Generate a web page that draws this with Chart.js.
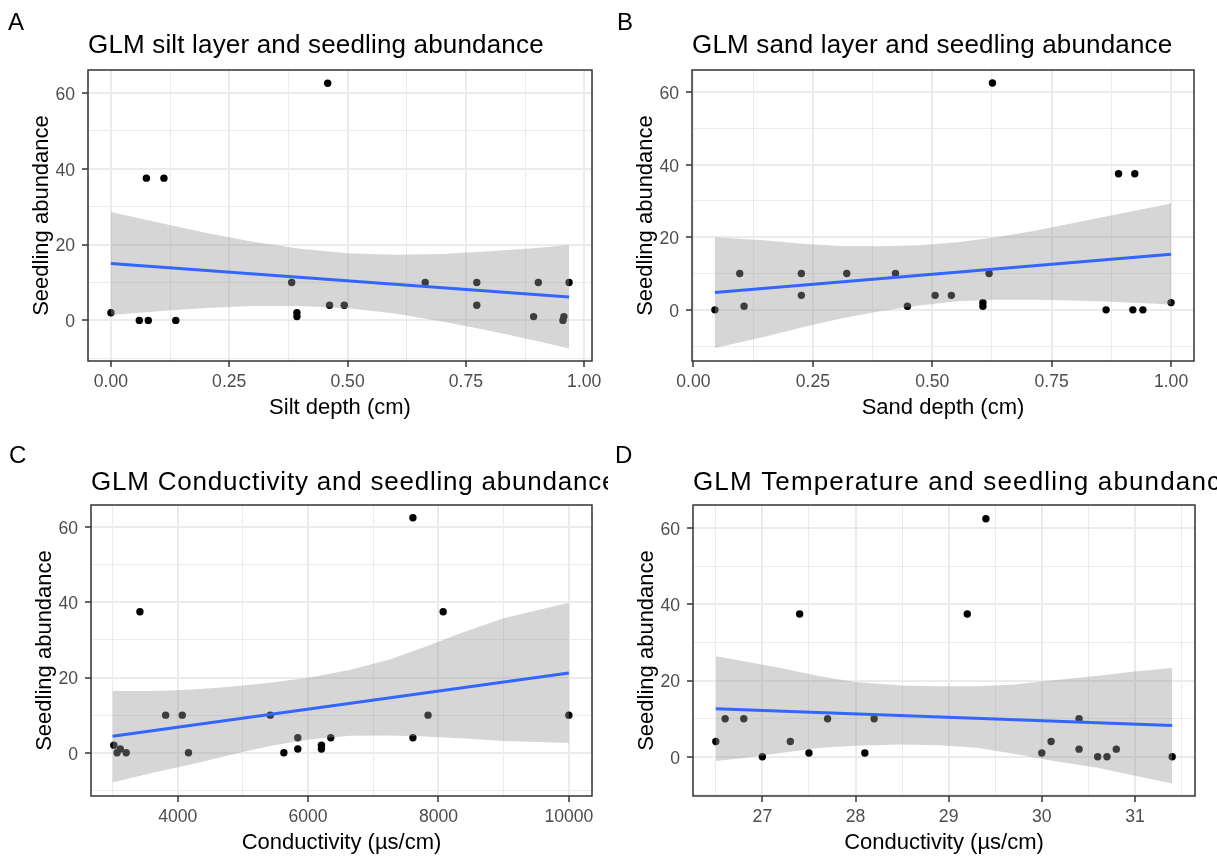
<!DOCTYPE html>
<html>
<head>
<meta charset="utf-8">
<script src="https://cdn.jsdelivr.net/npm/chart.js@4/dist/chart.umd.min.js"></script>
<style>
  html, body { margin: 0; padding: 0; background: #fff; }
  #wrap { position: relative; width: 1217px; height: 856px; overflow: hidden; }
  canvas { position: absolute; }
</style>
</head>
<body>
<div id="wrap">
  <canvas id="pA" width="608" height="428" style="left:0;top:0"></canvas>
  <canvas id="pB" width="609" height="428" style="left:608px;top:0"></canvas>
  <canvas id="pC" width="608" height="428" style="left:0;top:428px"></canvas>
  <canvas id="pD" width="609" height="428" style="left:608px;top:428px"></canvas>
</div>
<script>
// shared y axis
const abundanceTicks = [0, 20, 40, 60];
const abundanceMinor = [-10, 10, 30, 50];
const abundanceLabels = ['0', '20', '40', '60'];

// A: silt layer
const siltDepth = [0.00, 0.060, 0.079, 0.075, 0.112, 0.137, 0.382, 0.393, 0.393, 0.458,
                   0.462, 0.493, 0.664, 0.773, 0.773, 0.893, 0.903, 0.955, 0.957, 0.968];
const siltSeedlings = [2, 0, 0, 37.5, 37.5, 0, 10, 2, 1, 62.5,
                       4, 4, 10, 10, 4, 1, 10, 0, 1, 10];
const siltFitX = [0, 0.968];
const siltFitY = [15.0, 6.2];
const siltBandX = [0, 0.1, 0.2, 0.3, 0.4, 0.5, 0.6, 0.7, 0.8, 0.9, 0.968];
const siltBandHigh = [28.6, 25.8, 23.1, 20.7, 18.9, 17.7, 17.3, 17.5, 18.2, 19.1, 19.9];
const siltBandLow = [1.4, 2.4, 3.3, 3.8, 3.8, 3.2, 1.8, -0.3, -2.7, -5.4, -7.4];
const depthTicks = [0, 0.25, 0.5, 0.75, 1];
const depthMinor = [0.125, 0.375, 0.625, 0.875];
const depthLabels = ['0.00', '0.25', '0.50', '0.75', '1.00'];

// B: sand layer
const sandDepth = [0.045, 0.097, 0.106, 0.226, 0.226, 0.321, 0.423, 0.448, 0.506, 0.540,
                   0.606, 0.606, 0.619, 0.626, 0.864, 0.890, 0.920, 0.924, 0.941, 1.000];
const sandSeedlings = [0, 10, 1, 10, 4, 10, 10, 1, 4, 4,
                       2, 1, 10, 62.5, 0, 37.5, 0, 37.5, 0, 2];
const sandFitX = [0.045, 1.0];
const sandFitY = [4.8, 15.3];
const sandBandX = [0.045, 0.147, 0.228, 0.309, 0.39, 0.472, 0.553, 0.634, 0.715, 0.796, 0.877, 1.0];
const sandBandHigh = [20.0, 19.2, 18.2, 17.6, 17.5, 17.8, 18.6, 20.0, 21.8, 23.9, 26.1, 29.3];
const sandBandLow = [-10.5, -7.5, -4.8, -2.4, -0.4, 1.2, 2.4, 2.8, 2.8, 2.6, 2.2, 1.5];

// C: conductivity
const conductivity = [3020, 3070, 3120, 3210, 3420, 3815, 4070, 4165, 5420, 5628,
                      5842, 5842, 6205, 6205, 6348, 7608, 7608, 7840, 8072, 10000];
const condSeedlings = [2, 0, 1, 0, 37.5, 10, 10, 0, 10, 0,
                       4, 1, 2, 1, 4, 62.5, 4, 10, 37.5, 10];
const condFitX = [3000, 10000];
const condFitY = [4.4, 21.2];
const condBandX = [3000, 3650, 4250, 4850, 5450, 6050, 6650, 7250, 7800, 8400, 9000, 10000];
const condBandHigh = [16.4, 16.4, 16.8, 17.6, 18.7, 20.1, 22.1, 24.8, 28.2, 32.2, 35.8, 39.9];
const condBandLow = [-7.9, -5.2, -2.9, -0.4, 1.9, 3.6, 4.5, 4.6, 4.3, 3.8, 3.1, 2.6];
const condTicks = [4000, 6000, 8000, 10000];
const condMinor = [3000, 5000, 7000, 9000];
const condLabels = ['4000', '6000', '8000', '10000'];

// D: temperature
const temperature = [26.5, 26.6, 26.8, 27.0, 27.3, 27.4, 27.5, 27.7, 28.1, 28.2,
                     29.2, 29.4, 30.0, 30.1, 30.4, 30.4, 30.6, 30.7, 30.8, 31.4];
const tempSeedlings = [4, 10, 10, 0, 4, 37.5, 1, 10, 1, 10,
                       37.5, 62.5, 1, 4, 10, 2, 0, 0, 2, 0];
const tempFitX = [26.5, 31.4];
const tempFitY = [12.6, 8.2];
const tempBandX = [26.5, 26.8, 27.2, 27.6, 28.0, 28.5, 28.9, 29.3, 29.7, 30.1, 30.6, 31.0, 31.4];
const tempBandHigh = [26.4, 25.1, 23.3, 21.2, 19.6, 18.7, 18.5, 18.5, 19.0, 20.0, 21.3, 22.4, 23.3];
const tempBandLow = [-1.1, -0.3, 1.0, 2.3, 2.9, 3.2, 3.0, 2.4, 0.8, -1.0, -2.9, -5.0, -7.0];
const tempTicks = [27, 28, 29, 30, 31];
const tempMinor = [26.5, 27.5, 28.5, 29.5, 30.5, 31.5];
const tempLabels = ['27', '28', '29', '30', '31'];

const FONT = '"Liberation Sans", Arial, Helvetica, sans-serif';
const zip = (xs, ys) => xs.map((x, i) => ({x: x, y: ys[i]}));
const near = (list, v) => list.findIndex(m => Math.abs(m - v) < 1e-9);

// panel border, tag letter and (clipped) title, like ggplot's theme_bw
const panelDecor = {
  id: 'panelDecor',
  afterDraw(chart, args, o) {
    const {ctx, chartArea: a} = chart;
    ctx.save();
    ctx.strokeStyle = '#333333';
    ctx.lineWidth = 1.5;
    ctx.strokeRect(a.left, a.top, a.right - a.left, a.bottom - a.top);
    ctx.fillStyle = '#000';
    ctx.textBaseline = 'alphabetic';
    ctx.textAlign = 'left';
    ctx.font = '24px ' + FONT;
    ctx.fillText(o.tag, o.tagX, o.tagY);
    ctx.font = '26px ' + FONT;
    ctx.letterSpacing = o.spacing + 'px';
    ctx.fillText(o.title, a.left, o.titleY);
    ctx.letterSpacing = '0px';
    ctx.restore();
  }
};

function axis(min, max, major, minor, labels, title, size, titlePad, horizontal) {
  const all = major.concat(minor).sort((a, b) => a - b);
  return {
    type: 'linear',
    min: min,
    max: max,
    afterBuildTicks: s => { s.ticks = all.map(v => ({value: v})); },
    afterFit: s => { if (horizontal) s.height = size; else s.width = size; },
    border: {display: false},
    grid: {
      color: '#EBEBEB',
      lineWidth: c => (near(major, c.tick.value) >= 0 ? 2 : 1),
      tickColor: c => (near(major, c.tick.value) >= 0 ? '#333333' : 'rgba(0,0,0,0)'),
      tickLength: 6,
      tickWidth: 1.5
    },
    ticks: {
      autoSkip: false,
      maxRotation: 0,
      color: '#4D4D4D',
      padding: horizontal ? 5 : 7,
      labelOffset: horizontal ? 0 : 2,
      font: {family: FONT, size: 17.6, lineHeight: 1.2},
      callback: v => { const i = near(major, v); return i >= 0 ? labels[i] : ''; }
    },
    title: {
      display: true,
      text: title,
      color: '#000',
      font: {family: FONT, size: 22, lineHeight: 1},
      padding: horizontal ? {top: 0, bottom: titlePad} : {top: titlePad, bottom: 0}
    }
  };
}

function panel(id, p) {
  const cv = document.getElementById(id);
  const W = cv.width, H = cv.height;
  const xH = 60;
  new Chart(cv, {
    type: 'scatter',
    data: {
      datasets: [
        {data: zip(p.x, p.y), backgroundColor: '#000', borderWidth: 0, pointRadius: 3.7, order: 3},
        {data: zip(p.bandX, p.bandLow), showLine: true, pointRadius: 0, borderWidth: 0,
         borderColor: 'rgba(0,0,0,0)', fill: false, order: 2},
        {data: zip(p.bandX, p.bandHigh), showLine: true, pointRadius: 0, borderWidth: 0,
         borderColor: 'rgba(0,0,0,0)', backgroundColor: 'rgba(153,153,153,0.4)', fill: '-1', order: 2},
        {data: zip(p.fitX, p.fitY), showLine: true, pointRadius: 0, borderWidth: 3,
         borderColor: '#3366FF', fill: false, order: 1}
      ]
    },
    options: {
      responsive: false,
      animation: false,
      devicePixelRatio: 1,
      layout: {padding: {left: 0, top: p.area[1], right: W - p.area[2], bottom: H - p.area[3] - xH}},
      plugins: {
        legend: {display: false},
        tooltip: {enabled: false},
        panelDecor: {tag: p.tag, tagX: p.tagX, tagY: p.tagY, title: p.title, titleY: p.titleY,
                     spacing: p.spacing}
      },
      scales: {
        x: axis(p.xRange[0], p.xRange[1], p.xTicks, p.xMinor, p.xLabels, p.xTitle, xH, 1.6, true),
        y: axis(p.yRange[0], p.yRange[1], abundanceTicks, abundanceMinor, abundanceLabels,
                'Seedling abundance', p.area[0], p.area[0] - 57, false)
      }
    },
    plugins: [panelDecor]
  });
}

panel('pA', {
  tag: 'A', tagX: 8, tagY: 30, title: 'GLM silt layer and seedling abundance', titleY: 53, spacing: 0.17,
  area: [88, 70, 592, 361],
  x: siltDepth, y: siltSeedlings, fitX: siltFitX, fitY: siltFitY,
  bandX: siltBandX, bandLow: siltBandLow, bandHigh: siltBandHigh,
  xRange: [-0.0484, 1.0164], yRange: [-10.7, 66.0],
  xTicks: depthTicks, xMinor: depthMinor, xLabels: depthLabels, xTitle: 'Silt depth (cm)'
});

panel('pB', {
  tag: 'B', tagX: 9, tagY: 30, title: 'GLM sand layer and seedling abundance', titleY: 53, spacing: 0.17,
  area: [84, 70, 586, 361],
  x: sandDepth, y: sandSeedlings, fitX: sandFitX, fitY: sandFitY,
  bandX: sandBandX, bandLow: sandBandLow, bandHigh: sandBandHigh,
  xRange: [-0.003, 1.048], yRange: [-14.1, 66.1],
  xTicks: depthTicks, xMinor: depthMinor, xLabels: depthLabels, xTitle: 'Sand depth (cm)'
});

panel('pC', {
  tag: 'C', tagX: 9, tagY: 35, title: 'GLM Conductivity and seedling abundance', titleY: 62, spacing: 0.78,
  area: [91, 77, 592, 368],
  x: conductivity, y: condSeedlings, fitX: condFitX, fitY: condFitY,
  bandX: condBandX, bandLow: condBandLow, bandHigh: condBandHigh,
  xRange: [2670, 10355], yRange: [-11.5, 65.9],
  xTicks: condTicks, xMinor: condMinor, xLabels: condLabels, xTitle: 'Conductivity (\u00b5s/cm)'
});

panel('pD', {
  tag: 'D', tagX: 7, tagY: 35, title: 'GLM Temperature and seedling abundance', titleY: 62, spacing: 1.15,
  area: [85, 77, 587, 368],
  x: temperature, y: tempSeedlings, fitX: tempFitX, fitY: tempFitY,
  bandX: tempBandX, bandLow: tempBandLow, bandHigh: tempBandHigh,
  xRange: [26.255, 31.645], yRange: [-10.3, 66.1],
  xTicks: tempTicks, xMinor: tempMinor, xLabels: tempLabels, xTitle: 'Conductivity (\u00b5s/cm)'
});
</script>
</body>
</html>
